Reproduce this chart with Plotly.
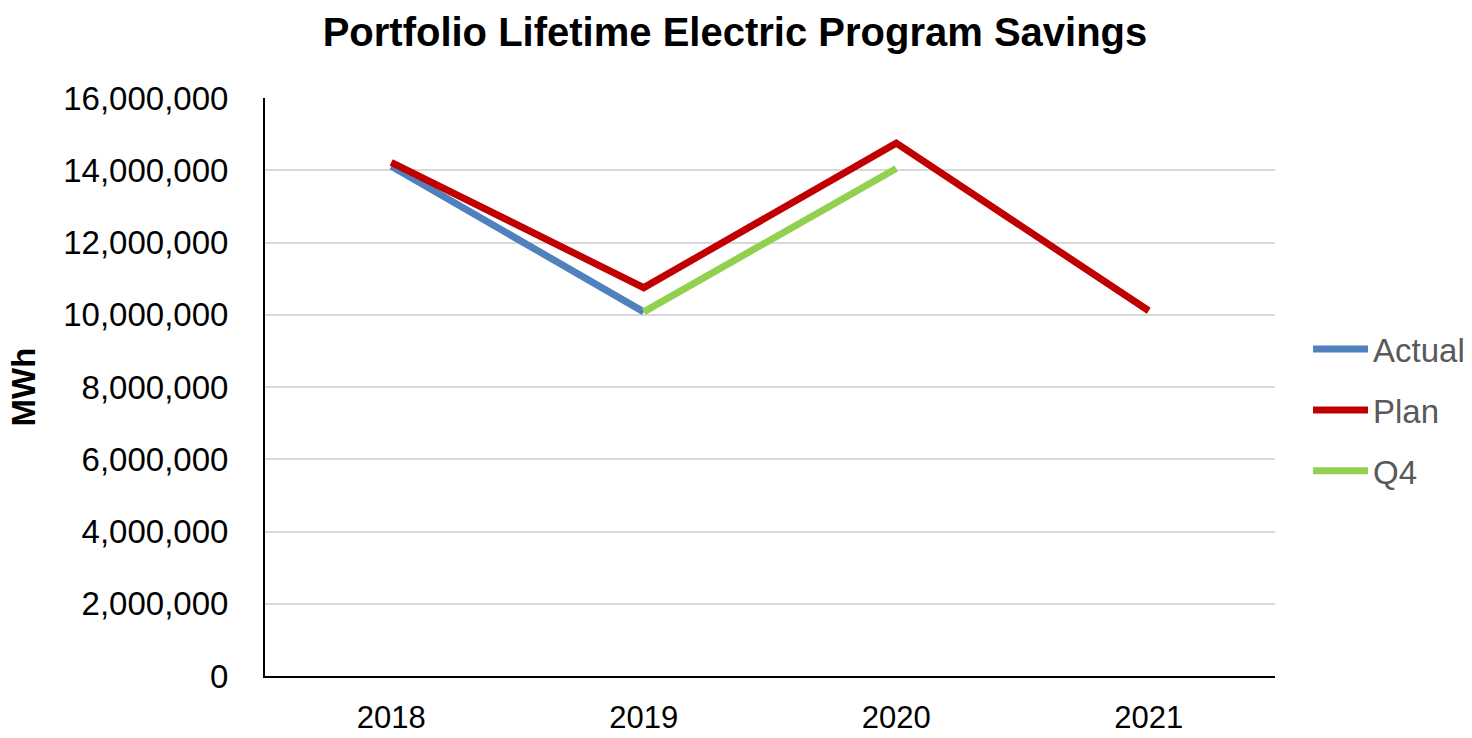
import plotly.graph_objects as go

# datos
years = ["2018", "2019", "2020", "2021"]
actual = [14110000, 10080000, None, None]
plan = [14220000, 10750000, 14750000, 10110000]
q4 = [None, 10080000, 14050000, None]

fnt = "Liberation Sans"

fig = go.Figure()
# cada serie en su grupo para poder separar las entradas de la leyenda
fig.add_trace(go.Scatter(x=years, y=actual, name="Actual", mode="lines", legendgroup="a",
                         line=dict(color="#4f81bd", width=7)))
fig.add_trace(go.Scatter(x=years, y=plan, name="Plan", mode="lines", legendgroup="p",
                         line=dict(color="#c00000", width=7)))
fig.add_trace(go.Scatter(x=years, y=q4, name="Q4", mode="lines", legendgroup="q",
                         line=dict(color="#92d050", width=7)))

fig.update_layout(
    width=1472, height=738,
    margin=dict(l=265, r=197, t=98, b=62, autoexpand=False),
    plot_bgcolor="white", paper_bgcolor="white",
    font=dict(family=fnt, color="black"),
    title=dict(text="<b>Portfolio Lifetime Electric Program Savings</b>",
               x=0.4993, xanchor="center", y=0.9566, yanchor="middle",
               font=dict(size=40, color="black")),
    legend=dict(x=1.0327, y=0.46, xanchor="left", yanchor="middle",
                font=dict(size=33, color="#595959"), itemwidth=55,
                tracegroupgap=15),
    showlegend=True,
)
fig.update_xaxes(type="category", range=[-0.5, 3.5], showline=True,
                 linecolor="black", linewidth=2, showgrid=False, automargin=False,
                 ticks="", tickfont=dict(size=31), ticklabelstandoff=13)
fig.update_yaxes(range=[0, 16000000], dtick=2000000, tickformat=",d",
                 showline=True, linecolor="black", linewidth=2, automargin=False,
                 gridcolor="#d9d9d9", gridwidth=2, zeroline=False,
                 ticks="", tickfont=dict(size=33), ticklabelstandoff=28,
                 title=dict(text="<b>MWh</b>", font=dict(size=33), standoff=18))

# quitar el margen del body para que la figura quepa completa en la ventana
fig.write_html("out.html", config={"displayModeBar": False},
               post_script="document.body.style.margin='0';")
